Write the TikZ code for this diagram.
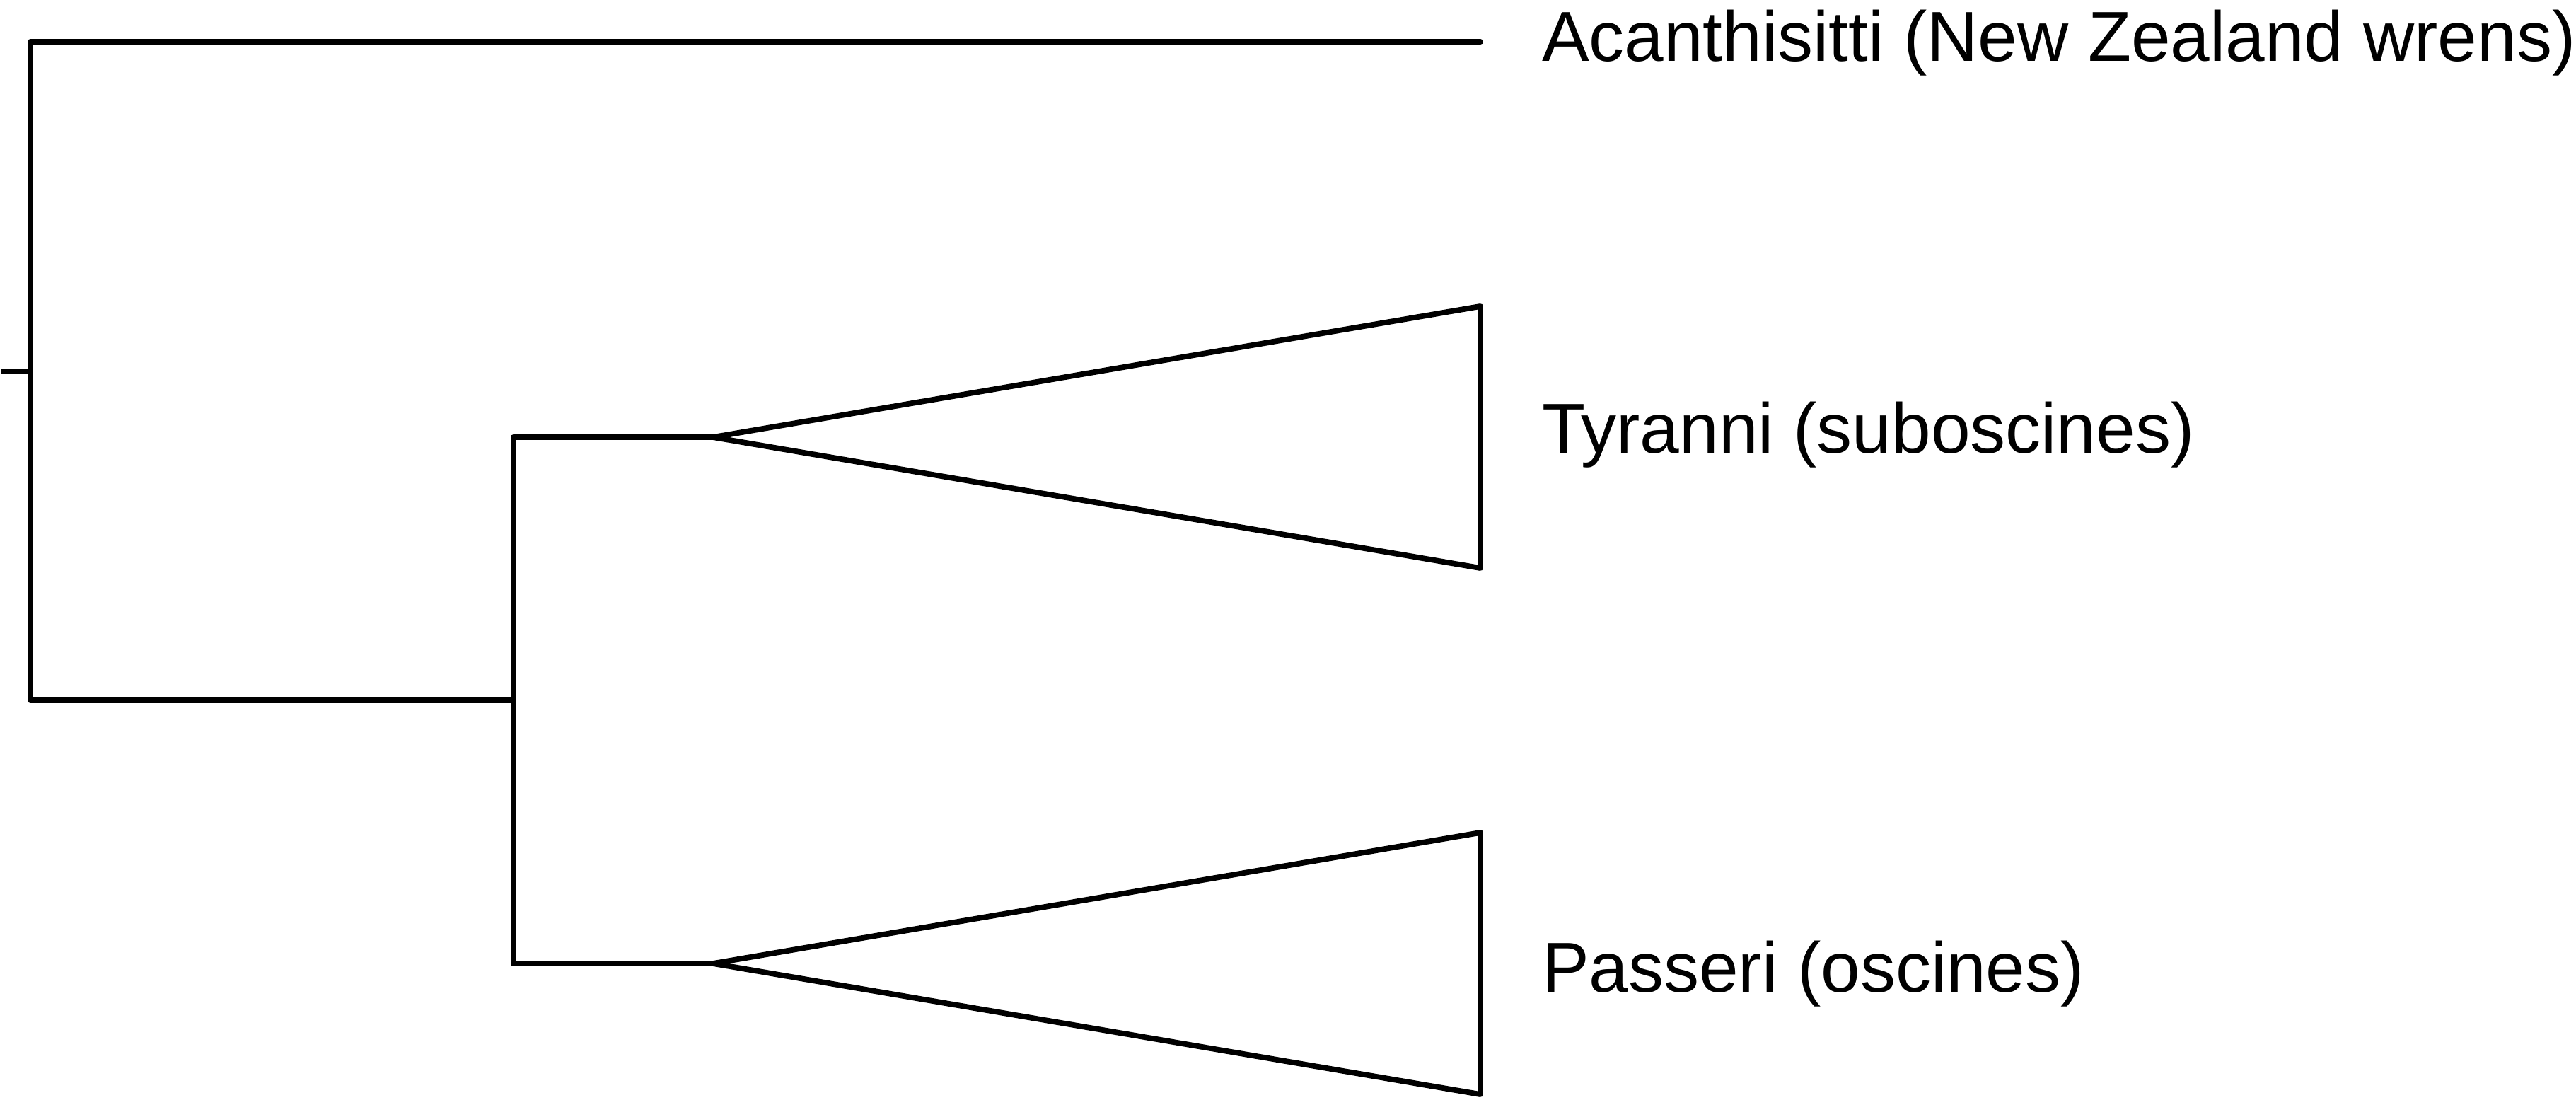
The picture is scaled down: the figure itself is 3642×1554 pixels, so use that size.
\documentclass[tikz,border=0pt]{standalone}
\usepackage{fontspec}
\setmainfont{Liberation Sans}
\begin{document}
\begin{tikzpicture}[x=0.1pt,y=-0.1pt,
  branch/.style={line width=0.78pt, line cap=round, line join=round, black},
  taxon/.style={anchor=base west, inner sep=0pt, outer sep=0pt, font=\fontsize{10pt}{12pt}\selectfont}]
\useasboundingbox (0,0) rectangle (3642,1554);
% tree points
\coordinate (stub) at (5,525);
\coordinate (root) at (43,525);
\coordinate (rtop) at (43,59);
\coordinate (rbot) at (43,990);
\coordinate (aca) at (2093,59);
\coordinate (inn) at (726,990);
\coordinate (itop) at (726,618);
\coordinate (ibot) at (726,1362);
\coordinate (tyr) at (1008,618);
\coordinate (tyrA) at (2093,433);
\coordinate (tyrB) at (2093,803);
\coordinate (pas) at (1008,1362);
\coordinate (pasA) at (2093,1177);
\coordinate (pasB) at (2093,1547);
% labels
\node[taxon] (lAca) at (2180,86) {Acanthisitti (New Zealand wrens)};
\node[taxon] (lTyr) at (2180,640) {Tyranni (suboscines)};
\node[taxon] (lPas) at (2180,1402) {Passeri (oscines)};
% branches
\draw[branch] (stub) -- (root);
\draw[branch] (aca) -- (rtop) -- (rbot) -- (inn);
\draw[branch] (tyr) -- (itop) -- (ibot) -- (pas);
\draw[branch] (tyr) -- (tyrA) -- (tyrB) -- cycle;
\draw[branch] (pas) -- (pasA) -- (pasB) -- cycle;
\end{tikzpicture}
\end{document}
